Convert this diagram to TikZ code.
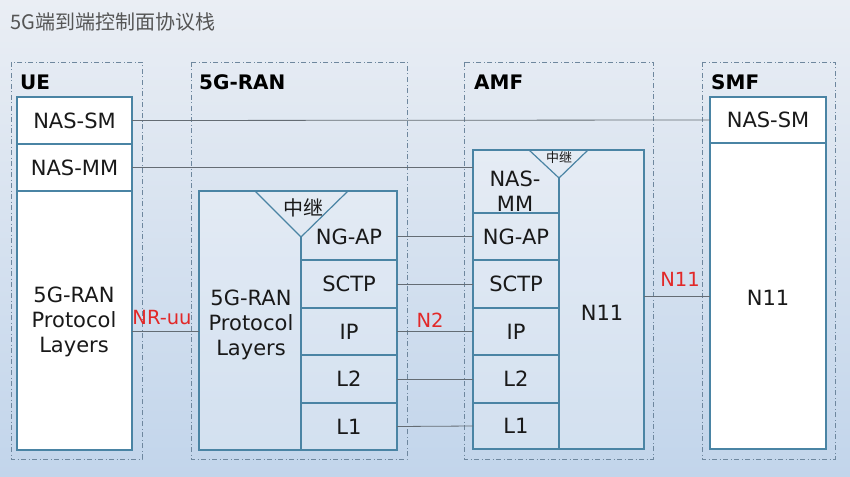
\documentclass[tikz,border=0pt]{standalone}
\usepackage{fontspec}
\setmainfont{DejaVu Sans}
\newfontfamily\cjk{Noto Sans CJK SC}
\usetikzlibrary{calc}
\definecolor{bgtop}{RGB}{234,238,244}
\definecolor{bgbot}{RGB}{194,213,235}
\definecolor{boxc}{RGB}{74,132,164}
\definecolor{dashc}{RGB}{110,135,158}
\definecolor{linec}{RGB}{100,108,116}
\definecolor{redc}{RGB}{226,40,40}
\definecolor{titlec}{RGB}{85,85,85}
\definecolor{txtc}{RGB}{25,25,25}
\tikzset{
  outerbox/.style={draw=dashc, line width=0.8pt, dash pattern=on 5pt off 2.5pt on 1pt off 2.5pt},
  cell/.style={draw=boxc, line width=1.2pt, inner sep=0pt, outer sep=0pt, anchor=north west, text=txtc,
    font=\fontsize{21}{25.5}\selectfont, align=center},
  whitecell/.style={cell, fill=white},
  clearcell/.style={cell, fill=white, fill opacity=0.25, text opacity=1},
  hidcell/.style={cell, draw=none},
  txt/.style={inner sep=0pt, text=txtc, font=\fontsize{21}{25}\selectfont, align=center},
  sect/.style={anchor=west, font=\fontsize{20}{24}\selectfont\bfseries, text=black, inner sep=0pt},
  conn/.style={draw=linec, line width=0.8pt},
  redlbl/.style={text=redc, font=\fontsize{19.5}{23}\selectfont, inner sep=0pt},
  relay/.style={text=txtc, inner sep=0pt},
}
\begin{document}
\begin{tikzpicture}[x=1pt,y=-1pt]
\useasboundingbox (0,0) rectangle (850,476);
\shade[top color=bgtop, bottom color=bgbot] (0,0) rectangle (850,476);

% title
\node[anchor=west, inner sep=0pt, text=titlec, font=\cjk\fontsize{20}{24}\selectfont] (title) at (10,22) {5G端到端控制面协议栈};

% outer dash-dot frames
\draw[outerbox] (11,62) rectangle (142,459);
\draw[outerbox] (191,62) rectangle (407,459);
\draw[outerbox] (464,62) rectangle (653,459);
\draw[outerbox] (702,62) rectangle (835,459);

\node[sect] (lue) at (20,82) {UE};
\node[sect] (lran) at (199,82) {5G-RAN};
\node[sect] (lamf) at (474,82) {AMF};
\node[sect] (lsmf) at (711,82) {SMF};

% UE stack
\node[whitecell, minimum width=115, minimum height=47] (uesm) at (17,97) {NAS-SM};
\node[whitecell, minimum width=115, minimum height=47] (uemm) at (17,144) {NAS-MM};
\node[whitecell, minimum width=115, minimum height=259] (ueran) at (17,191) {};
\node[txt] (ueproto) at (74,322) {5G-RAN\\Protocol\\Layers};

% 5G-RAN
\node[clearcell, minimum width=198, minimum height=259] (ranbox) at (199,191) {};
\node[txt] (ranproto) at (251,325) {5G-RAN\\Protocol\\Layers};
\node[hidcell, minimum width=96, minimum height=47] (ranngap) at (301,213) {NG-AP};
\node[cell, minimum width=96, minimum height=48] (ransctp) at (301,260) {SCTP};
\node[cell, minimum width=96, minimum height=47] (ranip) at (301,308) {IP};
\node[cell, minimum width=96, minimum height=48] (ranl2) at (301,355) {L2};
\node[cell, minimum width=96, minimum height=47] (ranl1) at (301,403) {L1};
\coordinate (rantip) at (301,237);
\draw[boxc, line width=1.2pt, line join=round] (255,191) -- (rantip) -- (348,191);
\draw[boxc, line width=1.2pt] (rantip) -- (ransctp.north west);
\node[relay, font=\cjk\fontsize{20}{24}\selectfont] (ranrelay) at (303,208) {中继};

% AMF
\node[clearcell, minimum width=171, minimum height=299] (amfbox) at (473,150) {};
\node[txt] (amfmm) at (515,191) {NAS-\\MM};
\node[cell, minimum width=86, minimum height=47] (amfngap) at (473,213) {NG-AP};
\node[cell, minimum width=86, minimum height=48] (amfsctp) at (473,260) {SCTP};
\node[cell, minimum width=86, minimum height=47] (amfip) at (473,308) {IP};
\node[cell, minimum width=86, minimum height=48] (amfl2) at (473,355) {L2};
\node[cell, minimum width=86, minimum height=46] (amfl1) at (473,403) {L1};
\coordinate (amftip) at (559,178);
\draw[boxc, line width=1.2pt, line join=round] (529,150) -- (amftip) -- (588,150);
\draw[boxc, line width=1.2pt] (amftip) -- (amfngap.north east);
\node[relay, font=\cjk\fontsize{13}{15}\selectfont] (amfrelay) at (559,158) {中继};
\node[txt] (amfn11) at (602,313) {N11};

% SMF stack
\node[whitecell, minimum width=116, minimum height=46] (smfsm) at (710,97) {NAS-SM};
\node[whitecell, minimum width=116, minimum height=306] (smfn11) at (710,143) {};
\node[txt] (smfn11t) at (768,298) {N11};

% connectors
\draw[conn] (uesm.east) -- (smfsm.west);
\draw[conn] (uemm.east) -- (uemm.east -| amfbox.west);
\draw[conn] (ranip.west -| ueran.east) -- (ranip.west -| ranbox.west);
\draw[conn] (ranngap.east) -- (amfngap.west);
\draw[conn] (ransctp.east) -- (amfsctp.west);
\draw[conn] (ranip.east) -- (amfip.west);
\draw[conn] (ranl2.east) -- (amfl2.west);
\draw[conn] (ranl1.east) -- (amfl1.west);
\draw[conn] (smfn11.west -| amfbox.east) -- (smfn11.west);

% interface labels
\node[redlbl] (nruu) at (162,318) {NR-uu};
\node[redlbl] (n2) at (430,320) {N2};
\node[redlbl] (n11r) at (680,279) {N11};
\end{tikzpicture}
\end{document}
